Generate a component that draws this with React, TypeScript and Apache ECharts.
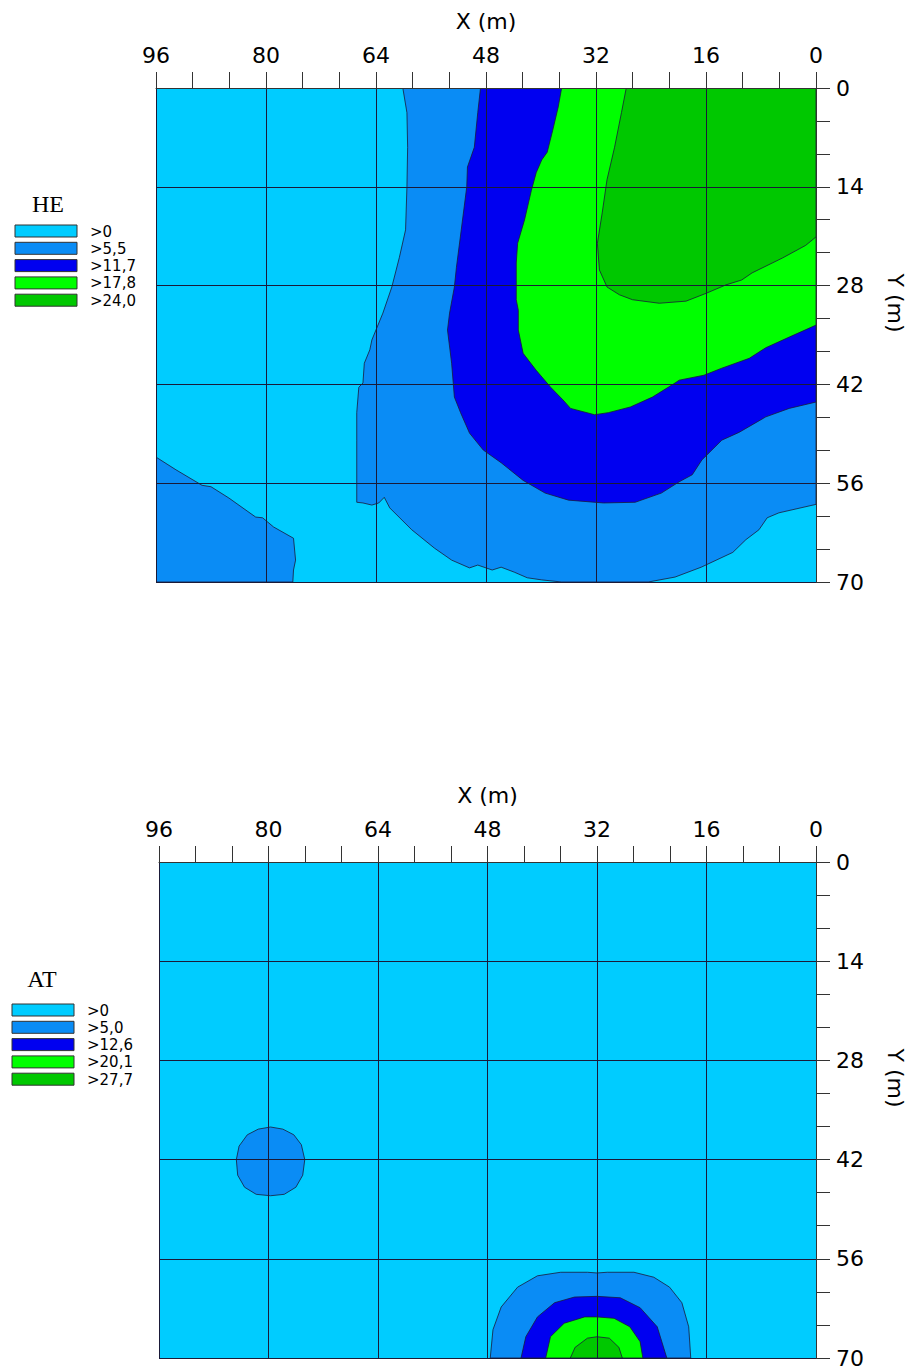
import React, { useEffect, useRef } from "react";
import * as echarts from "echarts";

// ---------- data ----------
const xMin = 0, xMax = 96, xStep = 16;
const yMin = 0, yMax = 70, yStep = 14;

const heTitle = "HE";
const atTitle = "AT";
const heLevels = [">0", ">5,5", ">11,7", ">17,8", ">24,0"];
const atLevels = [">0", ">5,0", ">12,6", ">20,1", ">27,7"];
const levelColors = ["#00CCFF", "#0A8CF5", "#0000F0", "#00FF00", "#00C800"];

// contour regions (value above level), vertices as [X (m), Y (m)]
const fullArea = [[0, 0], [96, 0], [96, 70], [0, 70]];

const heBand1a = [[60.1,0],[0,0],[0,59.0],[5.4,60.2],[7.1,60.9],[8.3,62.6],[10.2,64.0],[12.1,65.8],[16.7,67.9],[20.5,69.3],[24.4,70],[37.0,70],[39.9,69.7],[42.0,69.4],[43.9,68.6],[45.8,67.9],[47.1,68.3],[49.2,67.6],[50.4,68.0],[53.0,66.9],[55.5,65.2],[58.8,62.6],[62.0,59.5],[62.8,58.0],[63.6,58.8],[64.6,59.1],[65.9,58.8],[66.8,58.7],[66.8,49.9],[66.8,46.0],[66.5,42.4],[65.9,41.8],[65.7,39.0],[64.9,37.1],[64.6,35.7],[63.0,31.9],[61.7,28.2],[60.6,24.0],[59.7,20.1],[59.5,14.0],[59.4,8.4],[59.5,3.5]];
const heBand1b = [[96,52.3],[93.1,54.1],[89.3,56.3],[88.0,56.5],[85.4,58.1],[81.5,60.8],[80.5,60.9],[78.9,62.2],[76.0,63.8],[75.7,66.9],[76.0,68.3],[76.1,70],[96,70]];
const heBand2 = [[48.8,0],[0,0],[0,44.5],[3.9,45.4],[7.3,46.6],[11.2,48.8],[13.7,49.9],[16.6,52.7],[18.0,54.8],[19.9,55.8],[22.5,57.4],[26.3,58.7],[30.9,58.8],[36.0,58.4],[39.4,57.4],[42.6,55.6],[45.8,53.1],[48.4,51.3],[50.4,48.9],[51.7,46.0],[52.6,43.8],[53.0,39.0],[53.6,34.3],[53.3,31.9],[52.6,28.2],[52.3,25.4],[51.6,20.1],[50.8,14.0],[50.7,11.2],[49.7,8.4],[49.2,3.5]];
const heBand3 = [[37.0,0],[0,0],[0,33.6],[3.9,35.3],[7.3,36.8],[9.7,38.3],[13.7,39.7],[16.3,40.7],[19.9,41.4],[20.5,41.8],[23.8,43.8],[27.0,45.2],[30.2,46.0],[32.2,46.3],[35.7,45.4],[36.8,44.2],[38.6,42.4],[40.7,40.0],[42.6,37.6],[43.3,34.3],[43.3,31.5],[43.6,30.0],[43.6,24.8],[43.4,22.0],[42.4,18.7],[41.4,14.5],[40.7,12.0],[39.9,10.2],[39.1,9.1],[38.3,6.0],[37.5,2.7]];
const heBand4 = [[27.6,0],[0,0],[0,21.1],[1.5,22.3],[4.9,24.1],[9.3,26.2],[10.8,27.2],[13.1,27.9],[16.0,29.1],[18.9,30.2],[22.8,30.5],[26.7,30.0],[28.6,29.3],[30.4,28.2],[31.5,25.8],[31.8,22.0],[31.1,17.7],[30.4,13.0],[29.3,8.4],[28.3,3.5]];

const atBand1a = [[79.7,37.4],[77.9,37.7],[76.3,38.5],[75.2,39.9],[74.7,42.0],[75.0,44.2],[76.0,45.9],[77.7,46.9],[79.7,47.1],[81.8,46.9],[83.5,45.9],[84.5,44.2],[84.7,42.0],[84.3,40.1],[83.1,38.5],[81.5,37.7]];
const atBand1b = [[47.6,70],[47.2,66.0],[46.0,62.8],[43.6,60.0],[40.7,58.4],[37.3,57.9],[33.4,57.9],[32.0,58.0],[30.5,57.9],[26.6,57.9],[23.7,58.6],[21.4,60.0],[19.6,62.2],[18.6,65.6],[18.3,70]];
const atBand2 = [[43.1,70],[42.4,67.0],[40.7,64.2],[38.2,62.2],[35.3,61.4],[32.0,61.3],[28.6,61.5],[25.7,62.9],[23.2,65.6],[21.8,70]];
const atBand3 = [[39.5,70],[38.8,67.0],[36.8,65.1],[33.8,64.2],[32.0,64.2],[29.5,64.4],[27.2,65.6],[25.7,67.7],[25.3,70]];
const atBand4 = [[35.9,70],[35.2,68.5],[33.4,67.2],[32.0,67.0],[30.2,67.2],[28.8,68.5],[28.3,70]];

const hePolys = [
  { level: 0, pts: fullArea },
  { level: 1, pts: heBand1a },
  { level: 1, pts: heBand1b },
  { level: 2, pts: heBand2 },
  { level: 3, pts: heBand3 },
  { level: 4, pts: heBand4 },
];
const atPolys = [
  { level: 0, pts: fullArea },
  { level: 1, pts: atBand1a },
  { level: 1, pts: atBand1b },
  { level: 2, pts: atBand2 },
  { level: 3, pts: atBand3 },
  { level: 4, pts: atBand4 },
];

// ---------- styling ----------
const SANS = "DejaVu Sans";
const SERIF = "Liberation Serif";
const LINE = "#1a1a38";

function contourSeries(polys: any[], idx: number) {
  return {
    type: "custom",
    coordinateSystem: "cartesian2d",
    xAxisIndex: idx,
    yAxisIndex: idx,
    clip: true,
    silent: true,
    z: 2,
    data: polys.map((p, i) => [p.pts[0][0], p.pts[0][1], i]),
    renderItem: (params: any, api: any) => {
      const p = polys[params.dataIndex];
      const points = p.pts.map((pt: number[]) => api.coord(pt));
      return {
        type: "polygon",
        shape: { points },
        style: {
          fill: levelColors[p.level],
          stroke: p.level === 0 ? null : LINE,
          lineWidth: 0.8,
        },
      };
    },
  };
}

function xAxisFor(idx: number) {
  return {
    gridIndex: idx,
    type: "value",
    min: xMin,
    max: xMax,
    interval: xStep,
    inverse: true,
    position: "top",
    z: 10,
    name: "X (m)",
    nameLocation: "middle",
    nameGap: 56,
    nameTextStyle: { fontSize: 22, color: "#000", fontFamily: SANS },
    axisLine: { show: true, onZero: false, lineStyle: { color: "#333", width: 1 } },
    axisTick: { show: true, inside: false, length: 16, lineStyle: { color: "#333", width: 1 } },
    minorTick: { show: true, splitNumber: 3, length: 16, lineStyle: { color: "#333", width: 1 } },
    axisLabel: { fontSize: 22, color: "#000", margin: 22, fontFamily: SANS },
    splitLine: { show: true, lineStyle: { color: LINE, width: 1 } },
  };
}

function yAxisFor(idx: number) {
  return {
    gridIndex: idx,
    type: "value",
    min: yMin,
    max: yMax,
    interval: yStep,
    inverse: true,
    position: "right",
    z: 10,
    name: "Y (m)",
    nameLocation: "middle",
    nameRotate: -90,
    nameGap: 68,
    nameTextStyle: { fontSize: 22, color: "#000", fontFamily: SANS, padding: [0, 64, 0, 0] },
    axisLine: { show: true, onZero: false, lineStyle: { color: "#333", width: 1 } },
    axisTick: { show: true, inside: false, length: 14, lineStyle: { color: "#333", width: 1 } },
    minorTick: { show: true, splitNumber: 3, length: 14, lineStyle: { color: "#333", width: 1 } },
    axisLabel: { fontSize: 22, color: "#000", margin: 20, fontFamily: SANS },
    splitLine: { show: true, lineStyle: { color: LINE, width: 1 } },
  };
}

function legendGraphics(title: string, labels: string[], tx: number, ty: number, rx: number, ry: number) {
  const els: any[] = [
    {
      type: "text",
      x: tx,
      y: ty,
      style: { text: title, fontFamily: SERIF, fontSize: 24, fill: "#000", align: "center", verticalAlign: "middle" },
    },
  ];
  labels.forEach((lab, i) => {
    const y = ry + i * 17.3;
    els.push({
      type: "rect",
      shape: { x: rx, y, width: 62, height: 12 },
      style: { fill: levelColors[i], stroke: "#333", lineWidth: 1 },
    });
    els.push({
      type: "text",
      x: rx + 75,
      y: y + 6.5,
      style: { text: lab, fontFamily: SANS, fontSize: 15, fill: "#000", align: "left", verticalAlign: "middle" },
    });
  });
  return els;
}

export default function App() {
  const ref = useRef<HTMLDivElement>(null);
  useEffect(() => {
    if (!ref.current) return;
    const chart = echarts.init(ref.current, undefined, { renderer: "svg" });
    chart.setOption({
      animation: false,
      backgroundColor: "#fff",
      grid: [
        { left: 156, top: 88, width: 660, height: 494 },
        { left: 159, top: 862, width: 661, height: 496 },
      ],
      xAxis: [xAxisFor(0), xAxisFor(1)],
      yAxis: [yAxisFor(0), yAxisFor(1)],
      series: [contourSeries(hePolys, 0), contourSeries(atPolys, 1)],
      graphic: [
        ...legendGraphics(heTitle, heLevels, 48, 204, 15, 225),
        ...legendGraphics(atTitle, atLevels, 42, 979, 12, 1004),
      ],
    });
    return () => chart.dispose();
  }, []);
  return (
    <div
      ref={ref}
      style={{ position: "absolute", left: 0, top: 0, width: 914, height: 1369 }}
    />
  );
}
